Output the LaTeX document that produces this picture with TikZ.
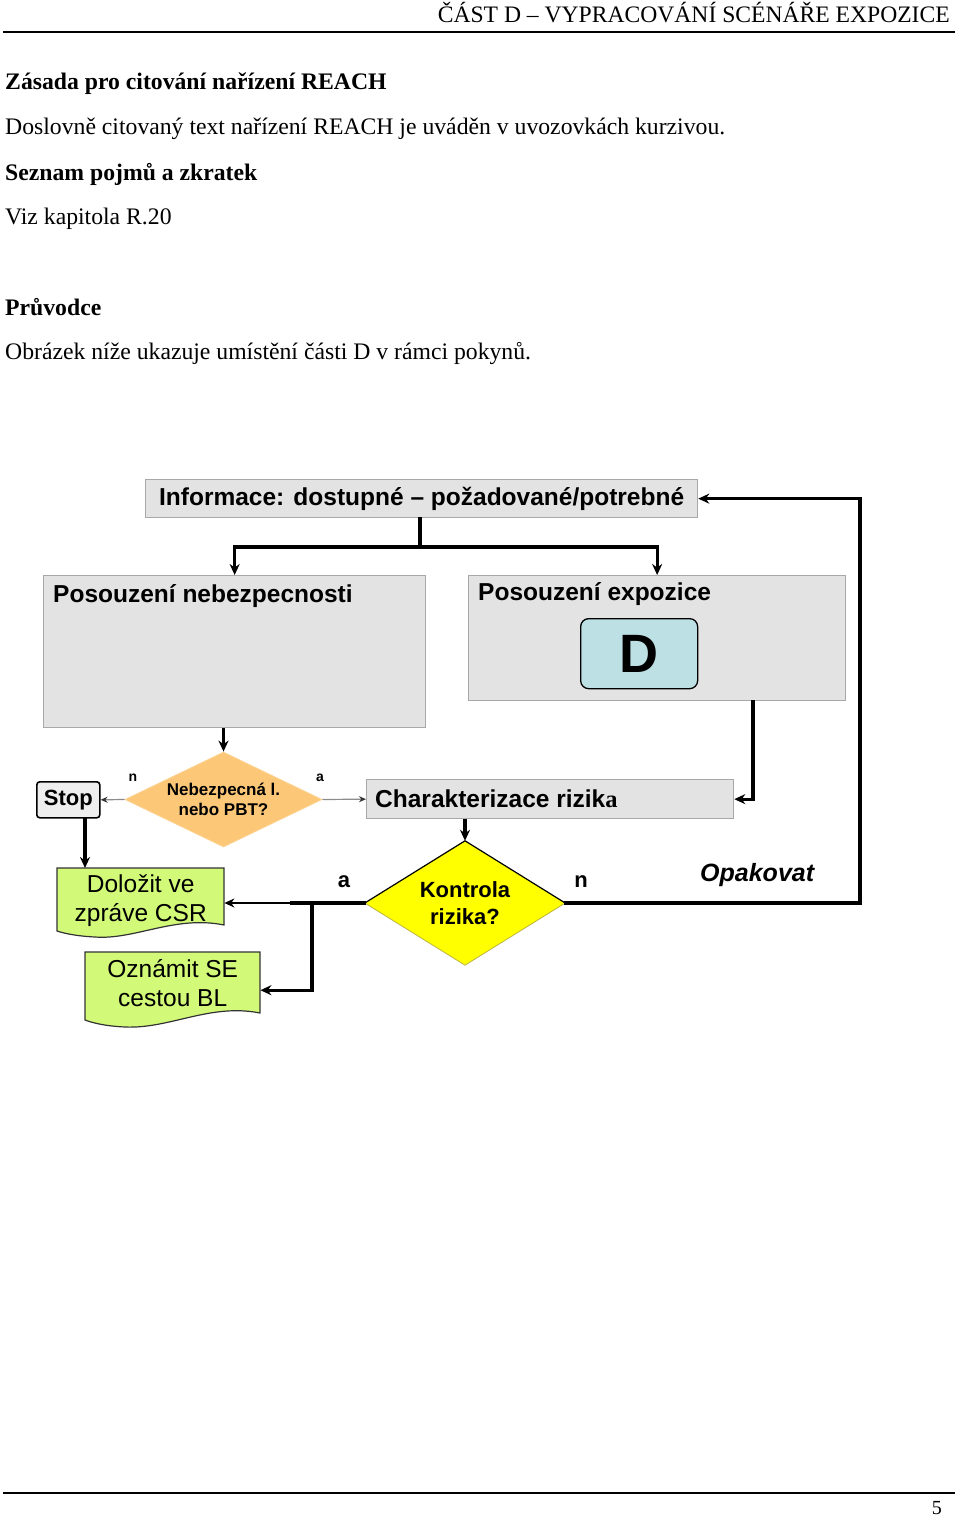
\documentclass[tikz,border=0pt]{standalone}
\usepackage{fontspec}
\setmainfont{Liberation Serif}
\newfontfamily\arial{Liberation Sans}
\usetikzlibrary{shapes.geometric,arrows.meta,backgrounds,calc}
\definecolor{boxgray}{HTML}{E3E3E3}
\definecolor{bordergray}{HTML}{A8A8A8}
\definecolor{dorange}{HTML}{FCC878}
\definecolor{dyellow}{HTML}{FFFF00}
\definecolor{dgreen}{HTML}{D2FA78}
\definecolor{dblue}{HTML}{BDE0E4}
\definecolor{stopgray}{HTML}{EEEEEE}
\tikzset{
  bodytext/.style={anchor=base west, inner sep=0pt, font=\fontsize{23.7}{28}\selectfont},
  bodybold/.style={bodytext, font=\fontsize{23.7}{28}\selectfont\bfseries},
  graybox/.style={draw=bordergray, fill=boxgray, line width=1.3pt, anchor=north west, inner sep=0pt},
  lbl/.style={anchor=west, inner sep=0pt, font=\arial\bfseries\fontsize{24.5}{28}\selectfont},
  conn/.style={line width=3.3pt, line cap=rect},
  arr/.style={line width=3.3pt, -{Stealth[length=11pt,width=10pt]}},
  thinarr/.style={draw=black!45, line width=1.2pt, -{Stealth[length=7pt,width=6pt,color=black!80]}},
  midarr/.style={line width=1.8pt, -{Stealth[length=10pt,width=9pt]}},
  doc/.style={anchor=north west, inner sep=0pt, align=center, font=\arial\fontsize{24.5}{29}\selectfont},
  docshape/.style={fill=dgreen, draw=black!80, line width=1.2pt},
  yn/.style={inner sep=0pt, font=\arial\bfseries\fontsize{14}{16}\selectfont},
  ynbig/.style={inner sep=0pt, font=\arial\bfseries\fontsize{22}{26}\selectfont},
}
\begin{document}
\begin{tikzpicture}[x=1pt,y=-1pt]
\useasboundingbox (0,0) rectangle (960,1518);
% header / footer
\node[anchor=base east, inner sep=0pt, font=\fontsize{23.6}{27}\selectfont] (hdr) at (950,22) {ČÁST D – VYPRACOVÁNÍ SCÉNÁŘE EXPOZICE};
\draw[line width=2pt] (3,32) -- (955,32);
\draw[line width=1.3pt] (3,1493) -- (955,1493);
\node[anchor=base east, inner sep=0pt, font=\fontsize{20}{24}\selectfont] (pg) at (942,1514) {5};
% body text
\node[bodybold] (t1) at (5,89) {Zásada pro citování nařízení REACH};
\node[bodytext] (t2) at (5,134) {Doslovně citovaný text nařízení REACH je uváděn v uvozovkách kurzivou.};
\node[bodybold] (t3) at (5,180) {Seznam pojmů a zkratek};
\node[bodytext] (t4) at (5,224) {Viz kapitola R.20};
\node[bodybold] (t5) at (5,315) {Průvodce};
\node[bodytext] (t6) at (5,359) {Obrázek níže ukazuje umístění části D v rámci pokynů.};
% boxes
\node[graybox, minimum width=552pt, minimum height=38pt, font=\arial\bfseries\fontsize{24.5}{28}\selectfont] (info) at (145,479) {Informace: dostupné – požadované/potrebné};
\node[graybox, minimum width=382pt, minimum height=152pt] (haz) at (43,575) {};
\node[lbl] (hazt) at (53,596) {Posouzení nebezpecnosti};
\node[graybox, minimum width=377pt, minimum height=125pt] (expo) at (468,575) {};
\node[lbl] (expot) at (478,594) {Posouzení expozice};
\node[draw=black, line width=1.3pt, fill=dblue, rounded corners=8pt, minimum width=117pt, minimum height=70pt, anchor=north west, inner sep=0pt, font=\arial\bfseries\fontsize{54}{60}\selectfont] (dbox) at (580,618) {D};
\node[graybox, minimum width=367pt, minimum height=39pt] (char) at (366,779) {};
\node[lbl] (chart) at (375,799) {Charakterizace rizik{\rmfamily\bfseries a}};
\node[draw=black, line width=1.6pt, fill=stopgray, rounded corners=3pt, minimum width=63pt, minimum height=36pt, anchor=north west, inner sep=0pt, font=\arial\bfseries\fontsize{22}{26}\selectfont] (stop) at (36,781) {Stop};
% diamonds
\node[diamond, fill=dorange, draw=dorange!80!white, line width=0.8pt, minimum width=197pt, minimum height=95pt, inner sep=0pt, aspect=2.07, align=center, font=\arial\bfseries\fontsize{17}{19.5}\selectfont] (haz2) at (223.5,799.5) {Nebezpecná l.\\nebo PBT?};
\node[diamond, fill=dyellow, minimum width=200pt, minimum height=124pt, inner sep=0pt, aspect=1.6, align=center, font=\arial\bfseries\fontsize{22}{27}\selectfont] (kon) at (465,903) {Kontrola\\rizika?};
\draw[line width=1.2pt] (kon.west) -- (kon.north) -- (kon.east);
\draw[line width=0.8pt, draw=yellow!70!black] (kon.west) -- (kon.south) -- (kon.east);
% documents
\node[doc, minimum width=167pt, minimum height=65pt] (dol) at (57,868) {Doložit ve\\zpráve CSR};
\node[doc, minimum width=175pt, minimum height=61pt] (ozn) at (85,952) {Oznámit SE\\cestou BL};
\begin{scope}[on background layer]
\draw[docshape] (57,868) -- (224,868) -- (224,925)
  .. controls (175,915) and (135,940) .. (95,937)
  .. controls (75,936) and (63,933) .. (57,931) -- cycle;
\draw[docshape] (85,952) -- (260,952) -- (260,1013)
  .. controls (210,1003) and (170,1029) .. (125,1027)
  .. controls (105,1026) and (93,1023) .. (85,1020) -- cycle;
\end{scope}
% labels
\node[yn] (ln1) at (133,778) {n};
\node[yn] (la1) at (320,778) {a};
\node[ynbig] (la2) at (344,882) {a};
\node[ynbig] (ln2) at (581,882) {n};
\node[anchor=west, inner sep=0pt, font=\arial\bfseries\itshape\fontsize{25}{29}\selectfont] (opak) at (700,875) {Opakovat};
% connectors
\coordinate (split) at (420,547);
\draw[conn] (split |- info.south) -- (split);
\draw[arr] (split) -| (haz.north);
\draw[arr] (split) -| (expo.north);
\draw[arr] (haz.south -| haz2.north) -- (haz2.north);
\draw[thinarr] (haz2.west) -- (stop.east);
\draw[thinarr] (haz2.east) -- (char.west);
\coordinate (expodown) at (753,700);
\draw[arr] (expodown) |- (char.east);
\coordinate (stopdown) at (85,817);
\draw[arr] (stopdown) -- (stopdown |- dol.north);
\draw[arr] (kon.north |- char.south) -- (kon.north);
\coordinate (ka) at (292,903);
\coordinate (kb) at (312,903);
\draw[midarr] (ka) -- (ka -| dol.east);
\draw[conn] (kon.west) -- (ka);
\draw[arr] (kb) |- ([yshift=-7.5pt]ozn.east);
\coordinate (rt) at (860,903);
\draw[conn] (kon.east) -- (rt);
\draw[arr] (rt) |- (info.east);
\end{tikzpicture}
\end{document}
